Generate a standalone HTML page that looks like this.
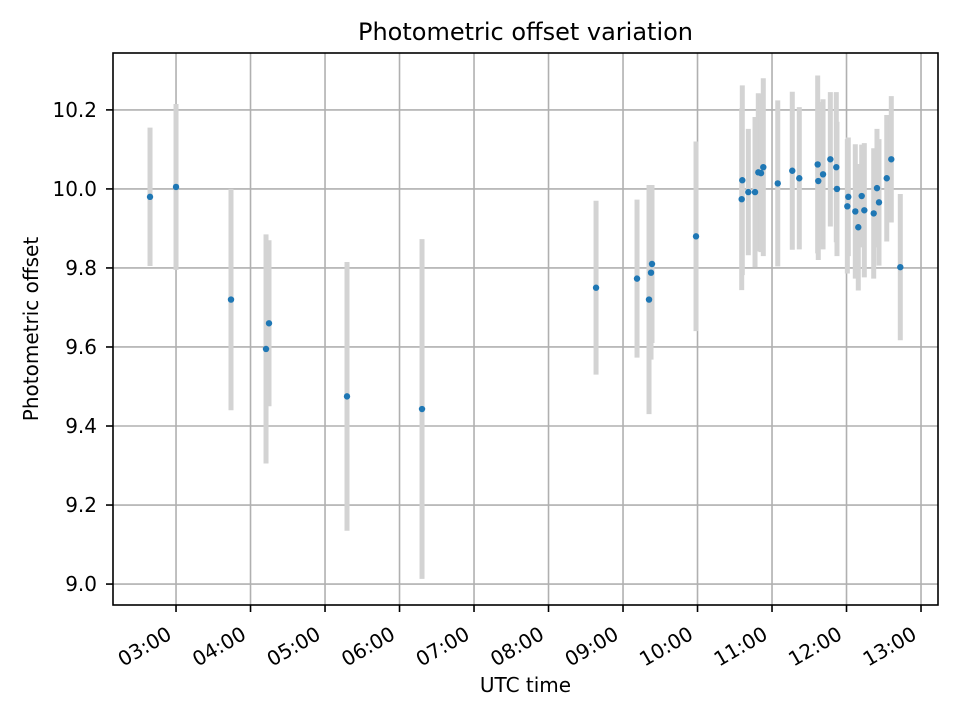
<!DOCTYPE html>
<html><head><meta charset="utf-8"><style>body{margin:0;background:#fff}svg{font-family:"DejaVu Sans","Liberation Sans",sans-serif}</style></head>
<body>
<svg id="chart" width="960" height="720" xmlns="http://www.w3.org/2000/svg"></svg>
<script>
const times=[2.651,3.0,3.738,4.208,4.248,5.295,6.302,8.638,9.188,9.349,9.376,9.389,9.980,10.601,10.593,10.682,10.772,10.816,10.852,10.883,11.077,11.272,11.366,11.613,11.621,11.685,11.783,11.863,11.872,12.011,12.024,12.118,12.158,12.204,12.239,12.365,12.409,12.436,12.540,12.601,12.722];
const values=[9.98,10.005,9.72,9.595,9.66,9.475,9.443,9.75,9.773,9.72,9.788,9.81,9.88,10.022,9.974,9.992,9.992,10.042,10.04,10.055,10.014,10.046,10.027,10.062,10.02,10.037,10.075,10.055,10.0,9.956,9.98,9.943,9.903,9.982,9.946,9.938,10.002,9.966,10.027,10.075,9.802];
const errors=[0.175,0.21,0.28,0.29,0.21,0.34,0.43,0.22,0.2,0.29,0.22,0.2,0.24,0.24,0.23,0.16,0.19,0.2,0.2,0.225,0.21,0.2,0.18,0.225,0.2,0.19,0.17,0.19,0.17,0.17,0.15,0.17,0.16,0.13,0.17,0.165,0.15,0.16,0.16,0.16,0.185];
const xTicks=[3,4,5,6,7,8,9,10,11,12,13];
const xTickLabels=["03:00","04:00","05:00","06:00","07:00","08:00","09:00","10:00","11:00","12:00","13:00"];
const yTicks=[9.0,9.2,9.4,9.6,9.8,10.0,10.2];
const yTickLabels=["9.0","9.2","9.4","9.6","9.8","10.0","10.2"];
const L=113,R=938,T=53,B=605,x0=2.154,x1=13.228,y0=8.947,y1=10.344;
const X=v=>L+(v-x0)/(x1-x0)*(R-L), Y=v=>B-(v-y0)/(y1-y0)*(B-T);
const svg=document.getElementById('chart');const NS="http://www.w3.org/2000/svg";
function mk(t,a,p){const e=document.createElementNS(NS,t);for(const k in a)e.setAttribute(k,a[k]);(p||svg).appendChild(e);return e;}
const grid=mk('g',{});
xTicks.forEach((t,i)=>{const x=X(t);mk('line',{x1:x,x2:x,y1:T,y2:B,stroke:'#b0b0b0','stroke-width':1.6},grid);
 mk('line',{x1:x,x2:x,y1:B,y2:B+7,stroke:'#000','stroke-width':1.6});
 const bx=x-3,by=B+33;
 const tx=mk('text',{x:bx,y:by,'font-size':20,'text-anchor':'end',transform:`rotate(-30 ${bx} ${by})`});
 tx.textContent=xTickLabels[i];});
yTicks.forEach((t,i)=>{const y=Y(t);mk('line',{x1:L,x2:R,y1:y,y2:y,stroke:'#b0b0b0','stroke-width':1.6},grid);
 mk('line',{x1:L-7,x2:L,y1:y,y2:y,stroke:'#000','stroke-width':1.6});
 const tx=mk('text',{x:L-16,y:y+7,'font-size':20,'text-anchor':'end'});
 tx.textContent=yTickLabels[i];});
const eb=mk('g',{});
times.forEach((t,i)=>{const l=mk('line',{x1:X(t),x2:X(t),y1:Y(values[i]+errors[i]),y2:Y(values[i]-errors[i]),stroke:'#d3d3d3','stroke-width':5},eb);
 });
const pts=mk('g',{});
times.forEach((t,i)=>{const c=mk('circle',{cx:X(t),cy:Y(values[i]),r:3.2,fill:'#1f77b4'},pts);
 });
const fr=mk('rect',{x:L,y:T,width:R-L,height:B-T,fill:'none',stroke:'#000','stroke-width':1.6});

let e=mk('text',{x:(L+R)/2,y:40,'font-size':24,'text-anchor':'middle'});e.textContent='Photometric offset variation';

e=mk('text',{x:(L+R)/2,y:692,'font-size':20,'text-anchor':'middle'});e.textContent='UTC time';

e=mk('text',{x:38,y:(T+B)/2,'font-size':20,'text-anchor':'middle',transform:`rotate(-90 38 ${(T+B)/2})`});e.textContent='Photometric offset';

</script>
</body></html>
